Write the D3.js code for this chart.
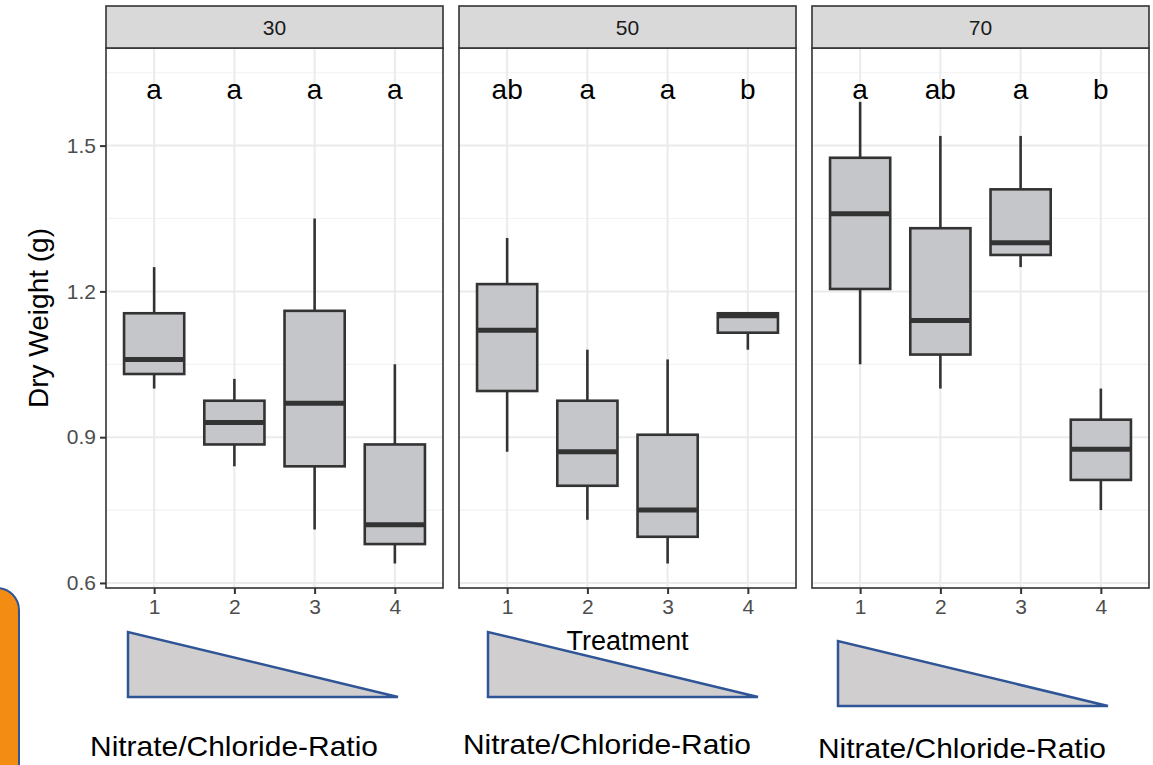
<!DOCTYPE html>
<html>
<head>
<meta charset="utf-8">
<script src="https://cdn.jsdelivr.net/npm/d3@7"></script>
<style>
  body { margin: 0; background: #fff; }
  svg { display: block; font-family: "Liberation Sans", Arial, sans-serif; }
</style>
</head>
<body>
<svg id="chart"></svg>
<script>
// facets (temperature?) and treatments
const facets = ["30", "50", "70"];
const treatments = ["1", "2", "3", "4"];

// box stats per facet, one value per treatment
const whiskerLow  = [[1.00, 0.84, 0.71, 0.64], [0.87, 0.73, 0.64, 1.08], [1.05, 1.00, 1.25, 0.75]];
const q1          = [[1.03, 0.885, 0.84, 0.68], [0.995, 0.80, 0.695, 1.115], [1.205, 1.07, 1.275, 0.812]];
const median      = [[1.06, 0.93, 0.97, 0.72], [1.12, 0.87, 0.75, 1.15], [1.36, 1.14, 1.30, 0.875]];
const q3          = [[1.155, 0.975, 1.16, 0.885], [1.215, 0.975, 0.905, 1.155], [1.475, 1.33, 1.41, 0.936]];
const whiskerHigh = [[1.25, 1.02, 1.35, 1.05], [1.31, 1.08, 1.06, 1.157], [1.59, 1.52, 1.52, 1.00]];
const letters     = [["a", "a", "a", "a"], ["ab", "a", "a", "b"], ["a", "ab", "a", "b"]];
const letterY = 1.65;

const yTicks = [0.6, 0.9, 1.2, 1.5];
const yMinor = [0.75, 1.05, 1.35, 1.65];
const ratioLabel = "Nitrate/Chloride-Ratio";

const width = 1153, height = 765;
const svg = d3.select("#chart").attr("width", width).attr("height", height);

const stripTop = 6, panelTop = 48, panelBottom = 588;

const fx = d3.scaleBand().domain(facets).range([106, 1149]).paddingInner(0.0453).paddingOuter(0);
const pw = fx.bandwidth();
const x = d3.scalePoint().domain(treatments).range([0, pw]).padding(0.6);
const boxW = x.step() * 0.75;
const y = d3.scaleLinear().domain([0.5896, 1.7009]).range([panelBottom, panelTop]);

// orange shape at left edge
svg.append("rect")
   .attr("x", -40).attr("y", 588)
   .attr("width", 59).attr("height", 220)
   .attr("rx", 22)
   .attr("fill", "#f28c12")
   .attr("stroke", "#2f5597")
   .attr("stroke-width", 2);

facets.forEach((f, fi) => {
  const g = svg.append("g").attr("transform", `translate(${fx(f)},0)`);

  // background + grid
  g.append("rect").attr("x", 0).attr("y", panelTop).attr("width", pw).attr("height", panelBottom - panelTop).attr("fill", "#fff");
  g.selectAll(".minor").data(yMinor).enter().append("line")
   .attr("x1", 0).attr("x2", pw)
   .attr("y1", d => y(d)).attr("y2", d => y(d))
   .attr("stroke", "#f2f2f2").attr("stroke-width", 1.2);
  g.selectAll(".major").data(yTicks).enter().append("line")
   .attr("x1", 0).attr("x2", pw)
   .attr("y1", d => y(d)).attr("y2", d => y(d))
   .attr("stroke", "#ebebeb").attr("stroke-width", 2);
  g.selectAll(".vgrid").data(treatments).enter().append("line")
   .attr("x1", d => x(d)).attr("x2", d => x(d))
   .attr("y1", panelTop).attr("y2", panelBottom)
   .attr("stroke", "#ebebeb").attr("stroke-width", 2);

  // boxes
  const rows = treatments.map((t, i) => ({
    t, lo: whiskerLow[fi][i], q1: q1[fi][i], med: median[fi][i], q3: q3[fi][i], hi: whiskerHigh[fi][i], lab: letters[fi][i]
  }));
  const bx = g.selectAll(".box").data(rows).enter().append("g");
  bx.append("line")
    .attr("x1", d => x(d.t)).attr("x2", d => x(d.t))
    .attr("y1", d => y(d.hi)).attr("y2", d => y(d.q3))
    .attr("stroke", "#333").attr("stroke-width", 2.6);
  bx.append("line")
    .attr("x1", d => x(d.t)).attr("x2", d => x(d.t))
    .attr("y1", d => y(d.q1)).attr("y2", d => y(d.lo))
    .attr("stroke", "#333").attr("stroke-width", 2.6);
  bx.append("rect")
    .attr("x", d => x(d.t) - boxW / 2).attr("width", boxW)
    .attr("y", d => y(d.q3)).attr("height", d => y(d.q1) - y(d.q3))
    .attr("fill", "#c4c6c9").attr("stroke", "#333").attr("stroke-width", 2.6);
  bx.append("line")
    .attr("x1", d => x(d.t) - boxW / 2).attr("x2", d => x(d.t) + boxW / 2)
    .attr("y1", d => y(d.med)).attr("y2", d => y(d.med))
    .attr("stroke", "#333").attr("stroke-width", 5);
  bx.append("text")
    .attr("x", d => x(d.t)).attr("y", y(letterY))
    .attr("dy", "0.93em")
    .attr("text-anchor", "middle")
    .attr("font-size", 28).attr("fill", "#000")
    .text(d => d.lab);

  // panel border
  g.append("rect").attr("x", 0).attr("y", panelTop).attr("width", pw).attr("height", panelBottom - panelTop)
   .attr("fill", "none").attr("stroke", "#333").attr("stroke-width", 1.6);

  // strip
  g.append("rect").attr("x", 0).attr("y", stripTop).attr("width", pw).attr("height", panelTop - stripTop)
   .attr("fill", "#d9d9d9").attr("stroke", "#333").attr("stroke-width", 1.6);
  g.append("text").attr("x", pw / 2).attr("y", (stripTop + panelTop) / 2).attr("dy", "0.36em")
   .attr("text-anchor", "middle").attr("font-size", 21).attr("fill", "#1a1a1a").text(f);

  // x axis
  const xa = g.append("g").attr("transform", `translate(0,${panelBottom})`)
    .call(d3.axisBottom(x).tickSize(6).tickPadding(5));
  xa.select(".domain").remove();
  xa.selectAll(".tick line").attr("stroke", "#333").attr("stroke-width", 2);
  xa.selectAll(".tick text").attr("font-size", 21).attr("fill", "#4d4d4d")
    .attr("font-family", "Liberation Sans, Arial, sans-serif");
});

// y axis on first panel
const ya = svg.append("g").attr("transform", `translate(${fx(facets[0])},0)`)
  .call(d3.axisLeft(y).tickValues(yTicks).tickFormat(d3.format(".1f")).tickSize(6).tickPadding(4));
ya.select(".domain").remove();
ya.selectAll(".tick line").attr("stroke", "#333").attr("stroke-width", 2);
ya.selectAll(".tick text").attr("font-size", 21).attr("fill", "#4d4d4d")
  .attr("font-family", "Liberation Sans, Arial, sans-serif");

svg.append("text")
   .attr("transform", `translate(38,${(panelTop + panelBottom) / 2}) rotate(-90)`)
   .attr("text-anchor", "middle").attr("dy", "0.36em")
   .attr("font-size", 28).attr("fill", "#000")
   .text("Dry Weight (g)");

// ratio triangles (decoration under each panel)
const triDX = [22, 29, 26], triTop = [632, 632, 641], triH = 65, triW = 270;
const labDX = [-16, 4, 6], labY = [756, 754, 758];
facets.forEach((f, i) => {
  const x0 = fx(f) + triDX[i], t = triTop[i];
  svg.append("path")
     .attr("d", `M${x0},${t} L${x0},${t + triH} L${x0 + triW},${t + triH} Z`)
     .attr("fill", "#d0cece").attr("stroke", "#2f5597").attr("stroke-width", 2.5)
     .attr("stroke-linejoin", "miter");
  svg.append("text")
     .attr("x", fx(f) + labDX[i]).attr("y", labY[i])
     .attr("font-size", 28).attr("fill", "#000")
     .attr("textLength", 288).attr("lengthAdjust", "spacingAndGlyphs")
     .text(ratioLabel);
});

// x title drawn last, over the middle triangle
svg.append("text")
   .attr("x", (fx(facets[0]) + fx(facets[2]) + pw) / 2).attr("y", 650)
   .attr("text-anchor", "middle").attr("font-size", 27).attr("fill", "#000")
   .text("Treatment");
</script>
</body>
</html>
